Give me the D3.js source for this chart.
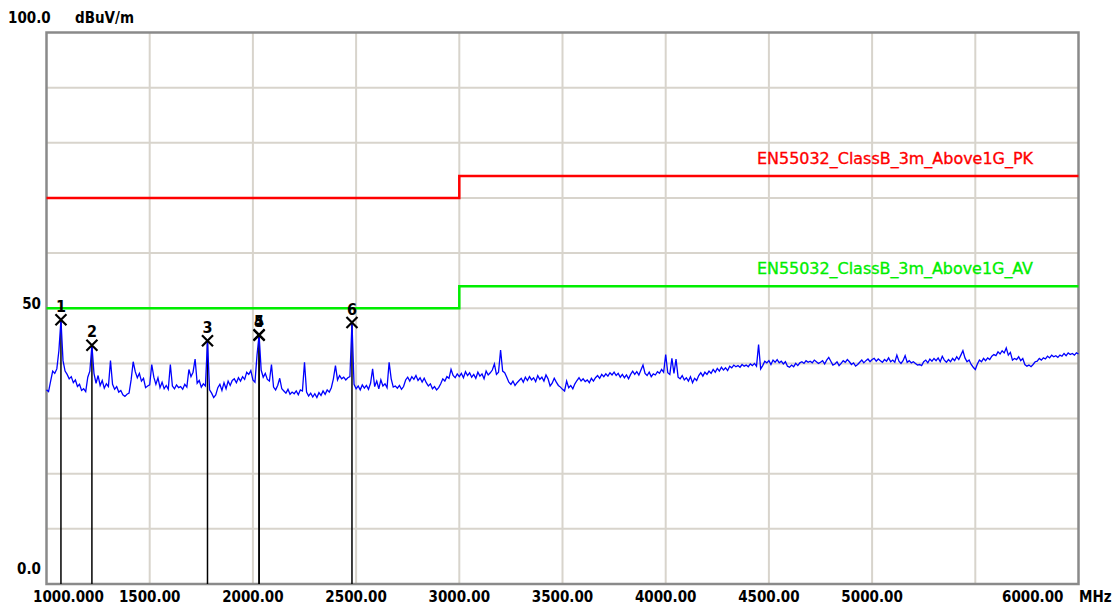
<!DOCTYPE html>
<html>
<head>
<meta charset="utf-8">
<script src="https://cdn.jsdelivr.net/npm/d3@7"></script>
<style>
  body { margin: 0; background: #fff; }
  text { font-family: "DejaVu Sans Condensed", "DejaVu Sans", sans-serif; }
</style>
</head>
<body>
<div id="chart"></div>
<script>
// frequency ticks (MHz) and labels
const xTicks = [1000, 1500, 2000, 2500, 3000, 3500, 4000, 4500, 5000, 6000]
const xTickLabels = ["1000.000", "1500.00", "2000.00", "2500.00", "3000.00", "3500.00", "4000.00", "4500.00", "5000.00", "6000.00"]
const xGrid = [1500, 2000, 2500, 3000, 3500, 4000, 4500, 5000, 5500]
const yGrid = [10, 20, 30, 40, 50, 60, 70, 80, 90]
const yTicks = [100, 50, 0]
const yTickLabels = ["100.0", "50", "0.0"]

// limit lines
const limitMHz = [1000, 3000, 6000]
const pkLimit = [70, 74, 74]
const avLimit = [50, 54, 54]
const limitNames = ["EN55032_ClassB_3m_Above1G_PK", "EN55032_ClassB_3m_Above1G_AV"]

// markers
const markerNo = ["1", "2", "3", "4", "5", "6"]
const markerMHz = [1070, 1220, 1780, 2030, 2030, 2480]
const markerLevel = [47.9, 43.3, 44.1, 45.1, 45.2, 47.4]

// measured trace, 10 MHz steps from 1000 MHz
const traceStartMHz = 1000
const traceStepMHz = 10
const traceLevels = [
  35.2, 34.9, 36.8, 38.6, 38.2, 39.0, 42.3, 47.9, 40.5, 38.6,
  38.0, 37.2, 37.6, 36.5, 37.0, 35.8, 36.2, 35.1, 35.4, 34.9,
  37.5, 38.6, 43.3, 38.2, 36.4, 37.8, 36.0, 36.9, 35.5, 36.3,
  35.8, 40.5, 36.2, 35.3, 35.8, 34.8, 35.1, 34.3, 34.0, 34.4,
  34.6, 37.0, 40.3, 38.5, 37.4, 38.2, 36.8, 37.3, 35.6, 35.9,
  36.1, 39.8, 37.5, 36.2, 37.4, 35.6, 36.6, 35.4, 36.0, 35.3,
  39.8, 35.9, 35.4, 36.1, 35.6, 35.8, 35.3, 36.2, 35.7, 38.9,
  37.6, 38.4, 40.8, 36.4, 36.9, 35.7, 36.3, 35.9, 44.1, 35.2,
  34.6, 33.8, 34.3, 35.6, 36.2, 35.1, 36.5, 35.4, 36.8, 36.0,
  36.9, 37.2, 36.5, 37.4, 36.8, 37.6, 37.1, 38.4, 38.0, 38.7,
  37.0, 36.6, 41.5, 45.2, 38.8, 37.5, 38.2, 37.1, 36.8, 39.8,
  35.7, 35.2, 36.0, 37.3, 35.4, 35.0, 34.6, 35.3, 34.4, 34.8,
  34.5, 35.0, 34.3, 35.2, 35.0, 40.2, 34.8, 34.1, 34.6, 33.9,
  34.5, 33.8, 34.7, 34.2, 35.0, 34.4, 35.2, 34.8, 35.6, 37.2,
  39.6, 37.0, 37.8, 37.2, 37.5, 37.0, 37.4, 37.6, 47.4, 36.2,
  35.4, 35.9, 35.2, 36.1, 35.5, 36.0, 35.3, 36.4, 39.0, 35.8,
  36.8, 35.4, 37.0, 35.9, 36.3, 35.6, 40.2, 37.2, 35.7, 35.9,
  35.5, 36.0, 35.3, 35.8, 37.0, 37.5, 36.8, 37.6, 37.1, 37.8,
  36.9, 37.4, 36.6, 37.3, 36.5, 35.9, 36.3, 35.4, 35.8, 35.2,
  35.6, 36.3, 37.2, 36.8, 37.6, 37.3, 38.9, 37.8, 37.4, 38.1,
  37.6, 38.2, 37.4, 38.5, 37.8, 38.3, 37.5, 38.0, 37.3, 38.4,
  37.7, 38.1, 37.2, 38.6, 37.9, 38.3, 38.8, 39.9, 38.0, 38.4,
  42.4, 38.6, 38.3, 37.5, 36.6, 36.2, 36.8, 36.0, 36.5, 36.9,
  37.3, 36.6, 37.5, 36.9, 37.6, 37.0, 37.4, 36.7, 37.8, 37.1,
  37.5, 36.8, 37.9, 37.2, 35.9, 36.4, 37.3, 36.6, 36.0, 35.7,
  35.3, 35.0, 36.8, 35.6, 36.0, 35.4, 36.3, 36.9, 37.4, 36.8,
  37.2, 36.7, 37.0, 36.5, 37.3, 36.8, 37.4, 37.8, 37.3, 38.0,
  37.6, 38.1, 37.7, 38.3, 37.9, 38.4, 37.8, 38.2, 37.5, 38.0,
  37.4, 37.9, 37.2, 38.0, 38.6, 38.0, 38.5, 37.9, 38.8, 39.7,
  38.2, 37.8, 38.4, 37.6, 38.1, 37.9, 38.5, 38.2, 38.9, 38.4,
  41.6, 38.3, 38.0, 40.9, 38.2, 40.8, 37.5, 37.2, 37.8, 37.0,
  37.4, 36.8, 37.6, 36.5, 37.3, 36.9, 37.8, 38.3, 37.7, 38.4,
  38.0, 38.6, 38.2, 38.9, 38.4, 39.1, 38.6, 39.3, 38.8, 39.2,
  38.7, 39.5, 39.2, 39.7, 39.4, 39.6, 39.3, 39.8, 39.5, 39.7,
  39.4, 39.9, 39.6, 40.0, 39.5, 43.4, 39.0, 39.6, 40.4, 40.1,
  40.5, 39.8, 40.6, 40.2, 40.7, 40.1, 40.4, 39.9, 40.3, 39.5,
  39.3, 39.7, 39.4, 40.0, 39.6, 40.1, 40.3, 40.0, 40.5, 40.2,
  40.4, 40.1, 40.6, 40.3, 40.0, 40.2, 40.5, 39.9, 40.6, 41.1,
  40.4, 39.7, 39.9, 40.3, 39.6, 40.0, 40.5, 40.2, 40.7, 40.3,
  39.8, 40.1, 39.5, 39.8, 40.2, 40.6, 40.1, 40.5, 40.8, 40.3,
  40.7, 40.9, 40.4, 40.8, 40.5, 40.2, 40.7, 40.4, 41.0, 40.3,
  40.6, 40.2, 41.5, 40.4, 40.0, 40.5, 41.4, 40.2, 40.5, 40.1,
  40.3, 40.0, 39.7, 39.8, 39.6, 40.3, 40.6, 40.1, 40.8, 40.4,
  40.9, 40.5, 41.0, 40.3, 41.3, 40.6, 40.2, 40.7, 40.3, 40.9,
  40.5, 41.2, 40.7, 41.5, 42.3, 41.0, 40.3, 40.6, 39.8, 39.3,
  38.9, 39.9, 40.6, 40.3, 40.9, 40.5, 41.0, 40.7, 41.3, 41.6,
  41.4, 42.1, 41.7, 42.3, 41.9, 42.8, 41.5, 42.0, 40.6, 40.9,
  40.7, 41.2, 40.5, 40.9, 39.8, 39.5, 39.7, 39.4, 39.8, 40.3,
  40.4, 40.9, 40.6, 41.0, 40.8, 41.3, 41.0, 41.5, 41.2, 41.4,
  41.1, 41.5, 41.3, 41.8, 41.4, 41.9, 41.6, 41.8, 41.5, 41.9,
  41.7
]

let width = 1117, height = 610
let plot = { left: 46.5, right: 1078.5, top: 32.5, bottom: 584 }

let svg = d3.select("#chart")
  .append("svg")
  .attr("width", width)
  .attr("height", height)

let xScale = d3.scaleLinear()
  .domain([1000, 6000])
  .range([plot.left, plot.right])
let yScale = d3.scaleLinear()
  .domain([0, 100])
  .range([plot.bottom, plot.top])

// grid
svg.append("g")
  .selectAll("line")
  .data(xGrid)
  .enter()
  .append("line")
  .attr("x1", d => xScale(d))
  .attr("x2", d => xScale(d))
  .attr("y1", plot.top)
  .attr("y2", plot.bottom)
  .style("stroke", "#d8d4cc")
  .style("stroke-width", 2)

svg.append("g")
  .selectAll("line")
  .data(yGrid)
  .enter()
  .append("line")
  .attr("x1", plot.left)
  .attr("x2", plot.right)
  .attr("y1", d => yScale(d))
  .attr("y2", d => yScale(d))
  .style("stroke", "#d8d4cc")
  .style("stroke-width", 2)

// frame
svg.append("rect")
  .attr("x", plot.left)
  .attr("y", plot.top)
  .attr("width", plot.right - plot.left)
  .attr("height", plot.bottom - plot.top)
  .style("fill", "none")
  .style("stroke", "#8a8a8a")
  .style("stroke-width", 2.5)

// y labels
svg.append("g")
  .selectAll("text")
  .data(yTicks)
  .enter()
  .append("text")
  .attr("x", (d, i) => i == 0 ? 8 : 41)
  .attr("y", (d, i) => i == 1 ? yScale(d) + 1 : yScale(d) - 10)
  .style("text-anchor", (d, i) => i == 0 ? "start" : "end")
  .style("font-size", "15px")
  .style("font-weight", "bold")
  .text((d, i) => yTickLabels[i])

svg.append("text")
  .attr("x", 75)
  .attr("y", yScale(100) - 10)
  .style("font-size", "15px")
  .style("font-weight", "bold")
  .text("dBuV/m")

// x labels
svg.append("g")
  .selectAll("text")
  .data(xTicks)
  .enter()
  .append("text")
  .attr("x", (d, i) => i == 0 ? 33 : (d == 6000 ? xScale(d) - 15 : xScale(d)))
  .attr("y", 602)
  .style("text-anchor", (d, i) => i == 0 ? "start" : (d == 6000 ? "end" : "middle"))
  .style("font-size", "15px")
  .style("font-weight", "bold")
  .text((d, i) => xTickLabels[i])

svg.append("text")
  .attr("x", 1079)
  .attr("y", 602)
  .style("font-size", "15px")
  .style("font-weight", "bold")
  .text("MHz")

// limit lines
let limitLine = d3.line()
  .x(d => xScale(d.f))
  .y(d => yScale(d.v))
  .curve(d3.curveStepAfter)

const limits = [
  { name: limitNames[0], color: "#ff0000", pts: limitMHz.map((f, i) => ({ f: f, v: pkLimit[i] })) },
  { name: limitNames[1], color: "#00ee00", pts: limitMHz.map((f, i) => ({ f: f, v: avLimit[i] })) }
]

limits.forEach(l => {
  svg.append("path")
    .datum(l.pts)
    .attr("d", limitLine)
    .style("fill", "none")
    .style("stroke", l.color)
    .style("stroke-width", 2.5)

  svg.append("text")
    .attr("x", 757)
    .attr("y", yScale(l.pts[l.pts.length - 1].v) - 12)
    .attr("textLength", 276)
    .attr("lengthAdjust", "spacingAndGlyphs")
    .style("font-size", "15px")
    .style("fill", l.color)
    .style("stroke", l.color)
    .style("stroke-width", 0.3)
    .text(l.name)
})

// marker drop lines
svg.append("g")
  .selectAll("line")
  .data(markerMHz)
  .enter()
  .append("line")
  .attr("x1", d => xScale(d))
  .attr("x2", d => xScale(d))
  .attr("y1", plot.bottom)
  .attr("y2", (d, i) => yScale(markerLevel[i]))
  .style("stroke", "#000")
  .style("stroke-width", 1.5)

// trace
let traceData = traceLevels.map((v, i) => ({ f: traceStartMHz + i * traceStepMHz, v: v }))
svg.append("path")
  .datum(traceData)
  .attr("d", d3.line().x(d => xScale(d.f)).y(d => yScale(d.v)))
  .style("fill", "none")
  .style("stroke", "#0000ff")
  .style("stroke-width", 1.3)

// marker crosses and numbers
let mk = svg.append("g")
  .selectAll("g")
  .data(markerMHz)
  .enter()
  .append("g")
  .attr("transform", (d, i) => "translate(" + xScale(d) + "," + yScale(markerLevel[i]) + ")")

mk.append("path")
  .attr("d", "M-5.5,-5.5L5.5,5.5M-5.5,5.5L5.5,-5.5")
  .style("stroke", "#000")
  .style("stroke-width", 2.2)

mk.append("text")
  .attr("y", -8)
  .style("text-anchor", "middle")
  .style("font-size", "16px")
  .style("font-weight", "bold")
  .text((d, i) => markerNo[i])
</script>
</body>
</html>
